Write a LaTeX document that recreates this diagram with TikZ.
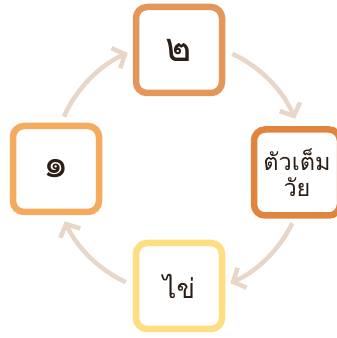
\documentclass[tikz,border=0pt]{standalone}
\usepackage{fontspec}
\newfontfamily\thaifont[Script=Thai]{Loma}
\usetikzlibrary{arrows.meta}
\definecolor{ink}{RGB}{42,30,22}
\definecolor{ringbeige}{RGB}{232,214,200}
\definecolor{lightorange}{RGB}{245,171,94}
\definecolor{midorange}{RGB}{229,150,90}
\definecolor{darkorange}{RGB}{224,132,62}
\definecolor{eggyellow}{RGB}{255,222,130}
\tikzstyle{stage} = [rectangle, rounded corners=11pt, minimum width=86pt, minimum height=86pt, line width=6.5pt, fill=white, text=ink, align=center]
\tikzstyle{cycle} = [line width=4.5pt, draw=ringbeige, -{Straight Barb[length=10pt, width=22pt]}]

\begin{document}
\begin{tikzpicture}[x=1pt, y=1pt, node distance=118pt]
	\useasboundingbox (0,0) rectangle (337,338);
	\coordinate (hub) at (179,170);
	\node (two) [stage, draw=midorange, font=\thaifont\fontsize{40}{44}\selectfont] at (179,288) {๒};
	\node (adult) [stage, draw=darkorange, font=\thaifont\fontsize{23.5}{26}\selectfont, right of=two, yshift=-122.5pt] {ตัวเต็ม\\วัย};
	\node (egg) [stage, draw=eggyellow, font=\thaifont\fontsize{27}{30}\selectfont, below of=two, yshift=-118pt] {ไข่};
	\node (one) [stage, draw=lightorange, font=\thaifont\fontsize{40}{44}\selectfont, left of=two, xshift=-5pt, yshift=-119pt] {๑};
	\draw [cycle] ([shift={(156:126)}]hub) arc [start angle=156, end angle=114, radius=126];
	\draw [cycle] ([shift={(65:126)}]hub) arc [start angle=65, end angle=23, radius=126];
	\draw [cycle] ([shift={(-26:126)}]hub) arc [start angle=-26, end angle=-66, radius=126];
	\draw [cycle] ([shift={(-115:126)}]hub) arc [start angle=-115, end angle=-155, radius=126];
\end{tikzpicture}
\end{document}
